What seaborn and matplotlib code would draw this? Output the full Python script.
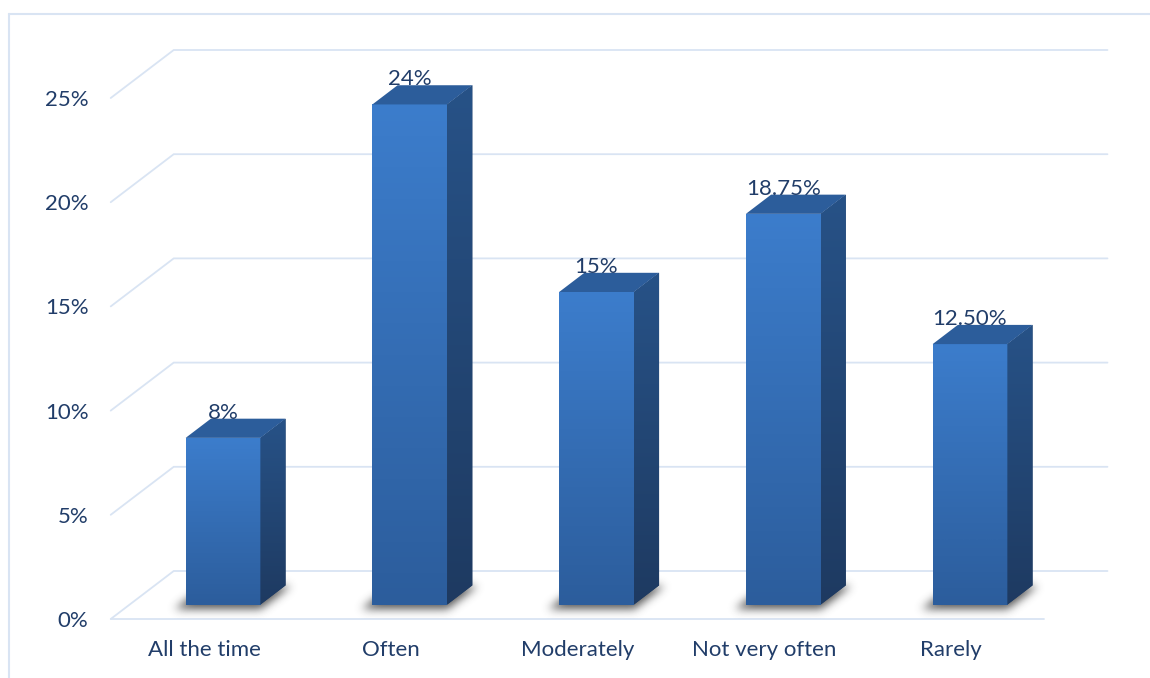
import numpy as np
import matplotlib
matplotlib.use("Agg")
import matplotlib.pyplot as plt
from matplotlib.patches import Polygon
from matplotlib.lines import Line2D
from matplotlib.colors import LinearSegmentedColormap
import seaborn as sns
import pandas as pd

# ---- data -------------------------------------------------------------
categories = ["All the time", "Often", "Moderately", "Not very often", "Rarely"]
values = [8, 24, 15, 18.75, 12.5]
value_labels = ["8%", "24%", "15%", "18.75%", "12.50%"]
y_ticks = [0, 5, 10, 15, 20, 25]
y_tick_labels = ["0%", "5%", "10%", "15%", "20%", "25%"]

# ---- geometry of the pseudo-3D frame ----------------------------------
W, H, DPI = 1150, 678, 100
X0_PX, X_STEP_PX = 223.0, 186.75     # first category centre / px per category
Y0_PX, Y_STEP_PX = 604.6, 20.84      # baseline (px from top) / px per percent
DEPTH_DX = 63.0 / X_STEP_PX          # full-depth shift, category units
DEPTH_DY = 48.0 / Y_STEP_PX          # full-depth shift, percent units
FLOOR_FRONT, WALL_BACK, BAR_DEPTH = -0.3, 0.7, 0.4
BAR_WIDTH = 0.4
TOP_PX = 30.0
FONT_SIZE = 16

GRID_COLOR = "#D9E4F3"
TEXT_COLOR = "#213D69"
FRONT_TOP, FRONT_BOTTOM = "#3C7DCC", "#2C5D9C"
SIDE_TOP, SIDE_BOTTOM = "#275287", "#1E3A61"
TOP_FACE = "#2C5D9B"


def proj(x, v, d):
    """Project a point (category x, value v, depth d) onto the drawing plane."""
    return (x + d * DEPTH_DX, v + d * DEPTH_DY)


def px_to_x(px):
    return (px - X0_PX) / X_STEP_PX


def py_to_y(py):
    return (Y0_PX - py) / Y_STEP_PX


def x_to_px(x):
    return X0_PX + X_STEP_PX * x


def gaussian_blur(a, sigma):
    r = int(3 * sigma)
    k = np.exp(-0.5 * (np.arange(-r, r + 1) / sigma) ** 2)
    k /= k.sum()
    a = np.apply_along_axis(lambda m: np.convolve(m, k, mode="same"), 0, a)
    a = np.apply_along_axis(lambda m: np.convolve(m, k, mode="same"), 1, a)
    return a


sns.set_theme(style="white")
plt.rcParams["font.family"] = ["Lato", "DejaVu Sans"]

fig = plt.figure(figsize=(W / DPI, H / DPI), dpi=DPI)
fig.patch.set_facecolor("white")

left_px = x_to_px(proj(-0.5, 0, FLOOR_FRONT)[0])
right_px = x_to_px(proj(4.5, 0, WALL_BACK)[0])
bottom_px = Y0_PX - Y_STEP_PX * proj(0, 0, FLOOR_FRONT)[1]
ax = fig.add_axes([left_px / W, (H - bottom_px) / H,
                   (right_px - left_px) / W, (bottom_px - TOP_PX) / H])

df = pd.DataFrame({"category": categories, "value": values})
sns.barplot(data=df, x="category", y="value", width=BAR_WIDTH,
            color=FRONT_TOP, saturation=1, ax=ax, zorder=4)

ax.set_xlim(px_to_x(left_px), px_to_x(right_px))
ax.set_ylim(py_to_y(bottom_px), py_to_y(TOP_PX))
for s in ax.spines.values():
    s.set_visible(False)
ax.set_xlabel("")
ax.set_ylabel("")

# ---- back wall grid lines and floor -----------------------------------
for v in y_ticks:
    pts = [proj(-0.5, v, FLOOR_FRONT), proj(-0.5, v, WALL_BACK), proj(4.5, v, WALL_BACK)]
    xs, ys = zip(*pts)
    ax.plot(xs, ys, color=GRID_COLOR, lw=1.3, zorder=1, clip_on=False,
            solid_joinstyle="miter")
fx, fy = zip(proj(-0.5, 0, FLOOR_FRONT), proj(4.5, 0, FLOOR_FRONT))
ax.plot(fx, fy, color=GRID_COLOR, lw=1.3, zorder=1, clip_on=False)

# ---- ticks ------------------------------------------------------------
ax.set_yticks(np.array(y_ticks) + FLOOR_FRONT * DEPTH_DY, labels=y_tick_labels)
ax.set_xticks(np.arange(len(categories)) + FLOOR_FRONT * DEPTH_DX, labels=categories)
ax.tick_params(axis="y", length=0, pad=16, labelsize=FONT_SIZE, labelcolor=TEXT_COLOR)
ax.tick_params(axis="x", length=0, pad=15, labelsize=FONT_SIZE, labelcolor=TEXT_COLOR)

# ---- 3D faces for each bar --------------------------------------------
front_cmap = LinearSegmentedColormap.from_list("front", [FRONT_BOTTOM, FRONT_TOP])
side_cmap = LinearSegmentedColormap.from_list("side", [SIDE_BOTTOM, SIDE_TOP])
grad = np.linspace(0, 1, 256).reshape(-1, 1)
ey = 1.0 / Y_STEP_PX   # one pixel in value units

depth_px_x = BAR_DEPTH * DEPTH_DX * X_STEP_PX
depth_px_y = BAR_DEPTH * DEPTH_DY * Y_STEP_PX

for patch, label in zip(ax.patches, value_labels):
    x0 = patch.get_x()
    x1 = x0 + patch.get_width()
    h = patch.get_height()

    # soft floor shadow, rasterised in pixel space and blurred
    x0p, x1p = x_to_px(x0), x_to_px(x1)
    gx0, gx1 = int(x0p - 45), int(x1p + depth_px_x + 45)
    gy0, gy1 = int(Y0_PX - depth_px_y - 40), int(Y0_PX + 30)
    PX, PY = np.meshgrid(np.arange(gx0, gx1) + 0.5, np.arange(gy0, gy1) + 0.5)
    base = Y0_PX + 3.0
    t = (base - PY) / depth_px_y
    inside = ((t >= -0.05) & (t <= 1.1)
              & (PX >= x0p - 9 + t * depth_px_x)
              & (PX <= x1p + 2 + t * depth_px_x))
    blur = gaussian_blur(inside.astype(float), 4.5)
    rgba = np.zeros(blur.shape + (4,))
    rgba[..., :3] = 0.22
    rgba[..., 3] = np.clip(blur * 0.85, 0, 1)
    ax.imshow(rgba, origin="upper", aspect="auto", interpolation="bilinear",
              extent=(px_to_x(gx0), px_to_x(gx1), py_to_y(gy1), py_to_y(gy0)),
              zorder=2)

    # front face gradient
    patch.set_edgecolor("none")
    im = ax.imshow(grad, cmap=front_cmap, origin="lower", aspect="auto",
                   extent=(x0, x1, 0, h), zorder=5, interpolation="bicubic")
    im.set_clip_path(patch)

    # right side face
    side = Polygon([proj(x1, 0, 0), proj(x1, h, 0), proj(x1, h, BAR_DEPTH),
                    proj(x1, 0, BAR_DEPTH)], closed=True, facecolor=SIDE_BOTTOM,
                   edgecolor="none", zorder=4)
    ax.add_patch(side)
    sx = [p[0] for p in side.get_xy()]
    sy = [p[1] for p in side.get_xy()]
    im2 = ax.imshow(grad, cmap=side_cmap, origin="lower", aspect="auto",
                    extent=(min(sx), max(sx), min(sy), max(sy)), zorder=5,
                    interpolation="bicubic")
    im2.set_clip_path(side)

    # top face
    ax.add_patch(Polygon([proj(x0, h, 0), proj(x1, h, 0), proj(x1, h, BAR_DEPTH),
                          proj(x0, h, BAR_DEPTH)], closed=True,
                         facecolor=TOP_FACE, edgecolor="none", zorder=5))

    # value label
    ax.text((x0 + x1) / 2, h + 25 * ey, label, ha="center", va="center",
            fontsize=FONT_SIZE, color=TEXT_COLOR, zorder=6)

# keep limits after imshow
ax.set_xlim(px_to_x(left_px), px_to_x(right_px))
ax.set_ylim(py_to_y(bottom_px), py_to_y(TOP_PX))

# ---- chart-area border ------------------------------------------------
bx, by = 8.5 / W, 1 - 13.5 / H
fig.add_artist(Line2D([bx, bx], [0, by], transform=fig.transFigure,
                      color=GRID_COLOR, lw=1.5))
fig.add_artist(Line2D([bx, 1], [by, by], transform=fig.transFigure,
                      color=GRID_COLOR, lw=1.5))

fig.savefig("out.png", dpi=DPI, facecolor="white")
